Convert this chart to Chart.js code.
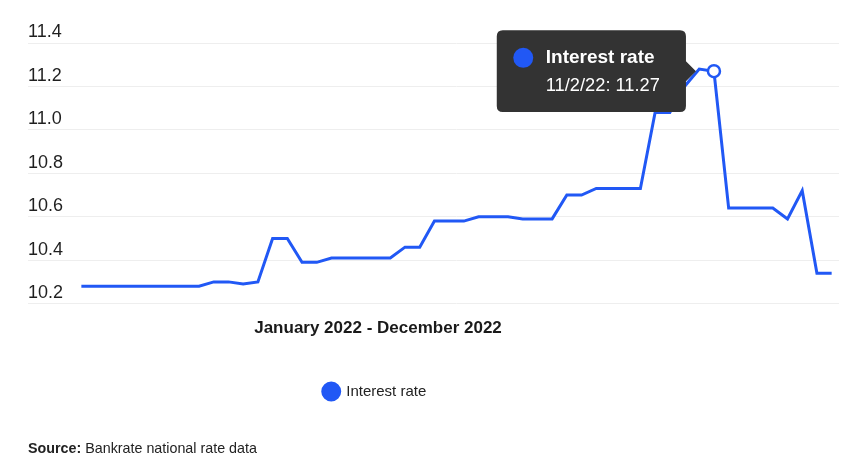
<!DOCTYPE html>
<html><head><meta charset="utf-8">
<script src="https://cdn.jsdelivr.net/npm/chart.js@4.4.1/dist/chart.umd.min.js"></script>
<style>
html,body{margin:0;padding:0;background:#fff;}
#wrap{position:relative;width:850px;height:464px;overflow:hidden;}
#source{position:absolute;left:28px;top:439px;font:14.3px "Liberation Sans",Arial,sans-serif;color:#222;line-height:18px;white-space:nowrap;}
</style></head><body>
<div id="wrap"><canvas id="c"></canvas><div id="source"><b>Source:</b> Bankrate national rate data</div></div>
<script>
const weeks = [
  '1/5/22','1/12/22','1/19/22','1/26/22',
  '2/2/22','2/9/22','2/16/22','2/23/22',
  '3/2/22','3/9/22','3/16/22','3/23/22','3/30/22',
  '4/6/22','4/13/22','4/20/22','4/27/22',
  '5/4/22','5/11/22','5/18/22','5/25/22',
  '6/1/22','6/8/22','6/15/22','6/22/22','6/29/22',
  '7/6/22','7/13/22','7/20/22','7/27/22',
  '8/3/22','8/10/22','8/17/22','8/24/22','8/31/22',
  '9/7/22','9/14/22','9/21/22','9/28/22',
  '10/5/22','10/12/22','10/19/22','10/26/22',
  '11/2/22','11/9/22','11/16/22','11/23/22','11/30/22',
  '12/7/22','12/14/22','12/21/22','12/28/22'
];
const interestRate = [
  10.28,10.28,10.28,10.28,10.28,10.28,10.28,10.28,10.28,
  10.30,10.30,10.29,10.30,
  10.50,10.50,10.39,10.39,
  10.41,10.41,10.41,10.41,10.41,
  10.46,10.46,
  10.58,10.58,10.58,
  10.60,10.60,10.60,
  10.59,10.59,10.59,
  10.70,10.70,
  10.73,10.73,10.73,10.73,
  11.08,11.08,11.20,11.28,11.27,
  10.64,10.64,10.64,10.64,
  10.59,10.72,10.34,10.34
];
const yTickValues = [10.2, 10.4, 10.6, 10.8, 11.0, 11.2, 11.4];
const seriesName = 'Interest rate';
const xTitle = 'January 2022 - December 2022';
const highlightedWeek = '11/2/22';

const BLUE = '#2158f5';
const GRID = '#eeeeee';
Chart.defaults.font.family = '"Liberation Sans", Arial, Helvetica, sans-serif';

const TITLE_DX = -55.5;
const LEGEND_DX = -58.5;

const shiftPlugin = {
  id: 'shiftBlocks',
  afterLayout(chart) {
    const t = chart.titleBlock;
    if (t) { t.left += TITLE_DX; t.right += TITLE_DX; }
    const l = chart.legend;
    if (l) { l.left += LEGEND_DX; l.right += LEGEND_DX; }
  }
};
const tooltipDot = {
  id: 'tooltipDot',
  afterTooltipDraw(chart, args) {
    const tt = args.tooltip;
    if (!tt || tt.opacity === 0) return;
    const ctx = chart.ctx;
    ctx.save();
    ctx.fillStyle = BLUE;
    ctx.beginPath();
    ctx.arc(tt.x + 26.5, tt.y + 27.5, 10, 0, Math.PI * 2);
    ctx.fill();
    ctx.restore();
  }
};

const chart = new Chart(document.getElementById('c'), {
  type: 'line',
  data: {
    labels: weeks,
    datasets: [{
      label: seriesName,
      data: interestRate,
      borderColor: BLUE,
      backgroundColor: BLUE,
      borderWidth: 3,
      tension: 0,
      pointRadius: 0,
      pointHoverRadius: 6,
      pointHoverBorderWidth: 2.5,
      pointHoverBackgroundColor: '#ffffff',
      pointHoverBorderColor: BLUE
    }]
  },
  options: {
    responsive: true,
    maintainAspectRatio: false,
    animation: false,
    events: [],
    layout: { padding: { left: 28, right: 11, top: 43, bottom: 55 } },
    scales: {
      x: {
        type: 'category',
        offset: true,
        display: false
      },
      y: {
        min: 10.2,
        max: 11.4,
        afterBuildTicks: s => { s.ticks = yTickValues.map(v => ({ value: v })); },
        afterFit: s => { s.width = 46; },
        border: { display: false },
        grid: { color: GRID, tickColor: GRID, drawTicks: true, tickLength: 46, lineWidth: 1 },
        ticks: {
          mirror: true,
          padding: -46,
          labelOffset: -10.5,
          color: '#1f1f1f',
          font: { size: 18 },
          callback: v => Number(v).toFixed(1)
        }
      }
    },
    plugins: {
      title: {
        display: true,
        text: xTitle,
        position: 'bottom',
        weight: 500,
        color: '#1a1a1a',
        font: { size: 17, weight: 'bold' },
        padding: { top: 15, bottom: 35 }
      },
      legend: {
        display: true,
        position: 'bottom',
        labels: {
          usePointStyle: true,
          pointStyle: 'circle',
          boxHeight: 12,
          color: '#222222',
          font: { size: 15 },
          padding: 10
        }
      },
      tooltip: {
        enabled: true,
        backgroundColor: '#333333',
        titleColor: '#ffffff',
        bodyColor: '#ffffff',
        titleFont: { size: 19, weight: 'bold' },
        bodyFont: { size: 18.3 },
        padding: { left: 49, right: 26, top: 16, bottom: 15 },
        titleMarginBottom: 6,
        displayColors: false,
        caretSize: 10,
        caretPadding: 18,
        cornerRadius: 6,
        callbacks: {
          title: items => items.length ? items[0].dataset.label : '',
          label: ctx => ctx.label + ': ' + ctx.parsed.y
        }
      }
    }
  },
  plugins: [shiftPlugin, tooltipDot]
});

const idx = weeks.indexOf(highlightedWeek);
const pt = chart.getDatasetMeta(0).data[idx];
chart.setActiveElements([{ datasetIndex: 0, index: idx }]);
chart.tooltip.setActiveElements([{ datasetIndex: 0, index: idx }], { x: pt.x, y: pt.y });
chart.update();
</script>
</body></html>
